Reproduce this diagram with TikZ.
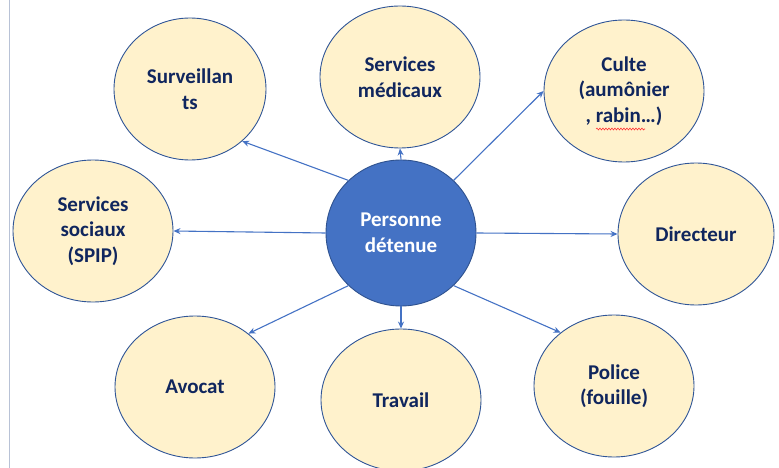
\documentclass[tikz,border=0pt]{standalone}
\usepackage{fontspec}
\setmainfont{Carlito}
\usetikzlibrary{arrows.meta,shapes.geometric,decorations.pathmorphing}

\definecolor{fondbulle}{HTML}{FFF2CC}
\definecolor{bordbulle}{HTML}{2F5597}
\definecolor{textebulle}{HTML}{10265E}
\definecolor{bleucentre}{HTML}{4472C4}
\definecolor{bordcentre}{HTML}{2F528F}
\definecolor{margegris}{HTML}{B8C2D6}

\tikzset{
  bulle/.style={ellipse, draw=bordbulle, line width=0.9pt, fill=fondbulle, inner sep=0pt,
    minimum width=160pt, minimum height=142pt, align=center, text=textebulle,
    font=\fontsize{21}{25.5}\selectfont\bfseries},
  centre/.style={bulle, draw=bordcentre, fill=bleucentre, text=white,
    minimum width=150pt, minimum height=146pt},
  fleche/.style={draw=bleucentre, line width=1.1pt, -{Stealth[length=7pt,width=6pt]}},
  soulign/.style={draw=red!80, line width=0.6pt, decorate,
    decoration={snake, amplitude=0.9pt, segment length=3pt}}
}

\begin{document}
\begin{tikzpicture}[x=1pt,y=-1pt]
  \useasboundingbox (0,0) rectangle (779,468);
  \draw[margegris, line width=0.8pt] (9.3,0) -- (9.3,468);

  % personne au centre
  \node [centre] (pers) at (401,233) {Personne\\détenue};

  % intervenants
  \node [bulle, minimum width=152pt] (surv) at (190,89) {Surveillan\\ts};
  \node [bulle] (med) at (400,77) {Services\\médicaux};
  \node [bulle] (culte) at (624,91) {Culte\\(aumônier\\, rabin…)};
  \node [bulle] (sociaux) at (93,231) {Services\\sociaux\\(SPIP)};
  \node [bulle, minimum width=156pt] (dir) at (696,234) {Directeur};
  \node [bulle] (avocat) at (195,387) {Avocat};
  \node [bulle] (travail) at (401,400) {Travail};
  \node [bulle] (police) at (614,386) {Police\\(fouille)};

  % soulignement ondule sous rabin
  \draw[soulign] (596,129) -- (645,129);

  \draw[fleche] (pers.135) -- (surv.-45);
  \draw[fleche] (pers.90) -- (med.-90);
  \draw[fleche] (pers.45) -- (culte.180);
  \draw[fleche] (pers.0) -- (dir.180);
  \draw[fleche] (pers.180) -- (sociaux.0);
  \draw[fleche] (pers.-135) -- (avocat.45);
  \draw[fleche] (pers.-90) -- (travail.90);
  \draw[fleche] (pers.-45) -- (police.135);
\end{tikzpicture}
\end{document}
